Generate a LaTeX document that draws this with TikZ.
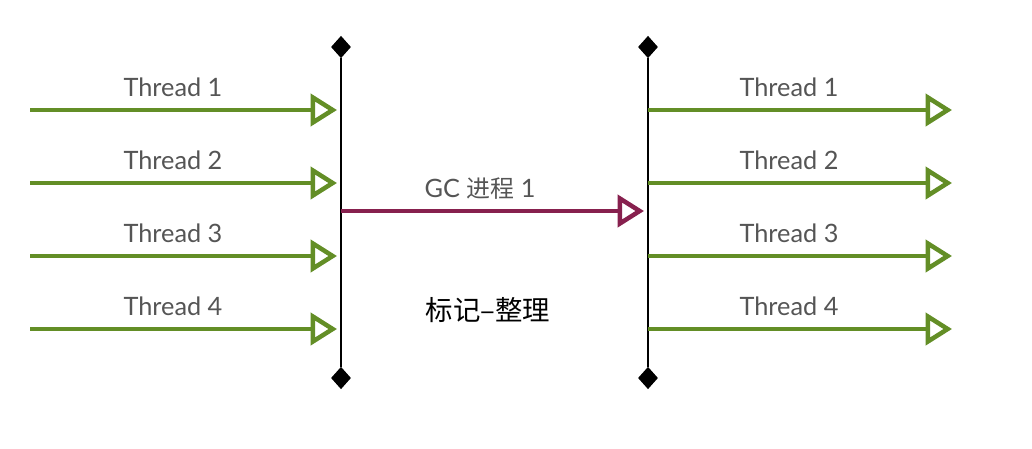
\documentclass[tikz,border=0pt]{standalone}
\usepackage{fontspec}
\setsansfont{Lato}
\newfontfamily\cjk{Noto Sans CJK SC}
\usetikzlibrary{shapes.geometric, arrows.meta}
\definecolor{threadgreen}{RGB}{99,142,38}
\definecolor{gcred}{RGB}{135,32,78}
\definecolor{labelgray}{RGB}{85,85,85}
\tikzset{
  barline/.style={line width=1.6pt, black},
  barend/.style={draw=none, fill=black, diamond, inner sep=0pt, minimum width=0.5cm, minimum height=0.56cm},
  threadarrow/.style={line width=3.2pt, threadgreen, -{Triangle[open, length=0.66cm, width=0.8cm]}},
  gcarrow/.style={line width=3.2pt, gcred, -{Triangle[open, length=0.66cm, width=0.8cm]}},
  threadlabel/.style={font=\sffamily\fontsize{18}{21}\selectfont, text=labelgray}
}
\begin{document}
\begin{tikzpicture}[x=0.025cm, y=-0.025cm]
\useasboundingbox (0,0) rectangle (1032,448);
% --- the two pauses ---
\node[barend] (lt) at (341,47) {};
\node[barend] (lb) at (341,378) {};
\node[barend] (rt) at (648,47) {};
\node[barend] (rb) at (648,378) {};
\draw[barline] (lt) -- (lb);
\draw[barline] (rt) -- (rb);
% --- application threads ---
\foreach \i/\y in {1/110, 2/183, 3/256, 4/329} {
  \coordinate (in\i) at (30,\y);
  \coordinate (stop\i) at (337,\y);
  \coordinate (go\i) at (648,\y);
  \coordinate (out\i) at (952,\y);
  \draw[threadarrow] (in\i) -- (stop\i);
  \draw[threadarrow] (go\i) -- (out\i);
  \node[threadlabel] (tl\i) at (173,\y-23) {Thread \i};
  \node[threadlabel] (tr\i) at (789,\y-23) {Thread \i};
}
% --- collector ---
\coordinate (gcstart) at (341,211);
\coordinate (gcend) at (644,211);
\draw[gcarrow] (gcstart) -- (gcend);
\node[threadlabel] (gc) at (480,189) {GC {\cjk\fontsize{17}{20}\selectfont 进程} 1};
\node[font=\cjk\fontsize{19.5}{22}\selectfont] (phase) at (488,310) {标记–整理};
\end{tikzpicture}
\end{document}
